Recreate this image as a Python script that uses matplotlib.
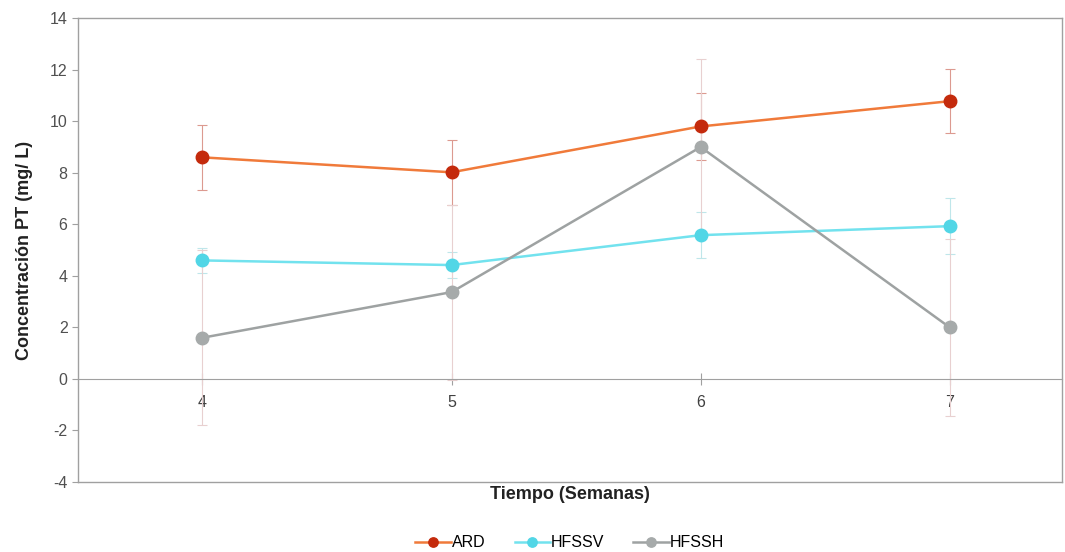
import matplotlib.pyplot as plt
import numpy as np

plt.rcParams['font.family'] = ['Liberation Sans', 'DejaVu Sans']
plt.rcParams['axes.unicode_minus'] = False

# Data
weeks = [4, 5, 6, 7]
ard = [8.6, 8.02, 9.8, 10.78]
ard_err = [1.25, 1.25, 1.3, 1.25]
hfssv = [4.6, 4.42, 5.58, 5.93]
hfssv_err = [0.5, 0.5, 0.9, 1.1]
hfssh = [1.6, 3.37, 9.0, 2.0]
hfssh_err = [3.4, 3.4, 3.4, 3.45]

fig = plt.figure(figsize=(10.65, 5.52), dpi=100)
ax = fig.add_axes([0.0732, 0.1268, 0.9238, 0.8402])

series = [
    ("ARD", ard, ard_err, '#f07a3a', '#c42a0c', '#dc9a90'),
    ("HFSSV", hfssv, hfssv_err, '#72e2ee', '#52d6e6', '#bfe6ea'),
    ("HFSSH", hfssh, hfssh_err, '#9ea2a2', '#a6aaaa', '#e8d0d0'),
]

for name, vals, err, lc, mc, ec in series:
    ax.errorbar(weeks, vals, yerr=err, fmt='none', ecolor=ec, elinewidth=0.8,
                capsize=3.5, capthick=0.8, zorder=2)
    ax.plot(weeks, vals, color=lc, lw=1.8, marker='o', markersize=9,
            markerfacecolor=mc, markeredgecolor=mc, label=name, zorder=3)

ax.set_xlim(3.5, 7.45)
ax.set_ylim(-4, 14)
ax.set_yticks(np.arange(-4, 15, 2))
ax.set_xticks(weeks)

for s in ['left', 'top', 'right']:
    ax.spines[s].set_color('#a0a0a0')
    ax.spines[s].set_linewidth(1.0)
ax.spines['bottom'].set_position(('data', 0))
ax.spines['bottom'].set_color('#a0a0a0')
ax.axhline(-4, color='#a0a0a0', lw=1.0, clip_on=False)

ax.tick_params(axis='y', colors='#a0a0a0', labelcolor='#505050', labelsize=11.5,
               direction='out', length=4)
ax.tick_params(axis='x', colors='#a0a0a0', labelcolor='#404040', labelsize=11.5,
               direction='inout', length=9, pad=7)

ax.set_ylabel("Concentración PT (mg/ L)", fontsize=13, fontweight='bold',
              color='#222222', labelpad=12)
ax.set_xlabel("Tiempo (Semanas)", fontsize=13, fontweight='bold',
              color='#222222', va='center')
ax.xaxis.set_label_coords(0.5, -0.027)

ax.legend(loc='upper center', bbox_to_anchor=(0.5, -0.084), ncol=3, frameon=False,
          fontsize=11.5, handlelength=2.2, handletextpad=0.1, columnspacing=1.8,
          markerscale=0.75)

fig.savefig('out.png', dpi=100)
